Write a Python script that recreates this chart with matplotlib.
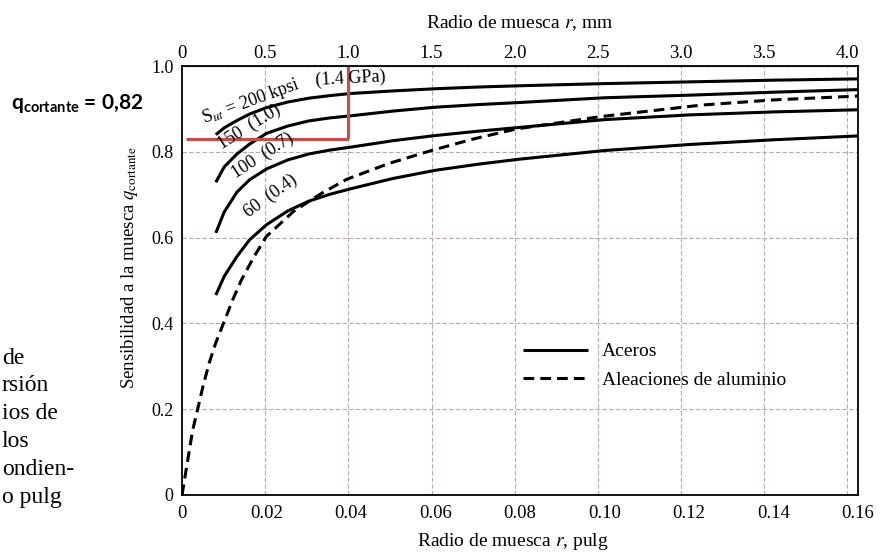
import numpy as np
import matplotlib.pyplot as plt

plt.rcParams["font.family"] = ["Liberation Serif", "DejaVu Serif"]
plt.rcParams["mathtext.fontset"] = "stix"

# radio de muesca r (pulg) y sensibilidad q
r_acero = [0.008, 0.010, 0.013, 0.016, 0.020, 0.025, 0.030, 0.035, 0.040, 0.050,
           0.060, 0.070, 0.080, 0.10, 0.12, 0.14, 0.16]
q_200 = [0.840, 0.856, 0.873, 0.888, 0.903, 0.916, 0.925, 0.931, 0.936, 0.942,
         0.947, 0.951, 0.954, 0.959, 0.963, 0.967, 0.970]
q_150 = [0.729, 0.765, 0.795, 0.818, 0.843, 0.860, 0.872, 0.879, 0.884, 0.895,
         0.904, 0.910, 0.915, 0.926, 0.932, 0.939, 0.945]
q_100 = [0.611, 0.660, 0.706, 0.735, 0.760, 0.781, 0.795, 0.804, 0.811, 0.826,
         0.838, 0.848, 0.857, 0.875, 0.886, 0.893, 0.898]
q_60 = [0.466, 0.510, 0.556, 0.595, 0.630, 0.662, 0.685, 0.701, 0.714, 0.738,
        0.757, 0.771, 0.783, 0.803, 0.817, 0.828, 0.837]

r_alum = [0.0, 0.001, 0.0025, 0.0037, 0.005, 0.0065, 0.008, 0.010, 0.012, 0.014,
          0.017, 0.020, 0.0265, 0.033, 0.039, 0.049, 0.059, 0.069, 0.079, 0.099,
          0.123, 0.14, 0.16]
q_alum = [0.0, 0.06, 0.15, 0.20, 0.255, 0.31, 0.355, 0.405, 0.455, 0.50,
          0.555, 0.603, 0.662, 0.703, 0.736, 0.773, 0.803, 0.830, 0.853, 0.882,
          0.909, 0.921, 0.930]

ticks_pulg = [0, 0.02, 0.04, 0.06, 0.08, 0.10, 0.12, 0.14, 0.16]
ticks_mm = [0, 0.5, 1.0, 1.5, 2.0, 2.5, 3.0, 3.5, 4.0]
ticks_q = [0, 0.2, 0.4, 0.6, 0.8, 1.0]

q_marcado = 0.83
r_marcado_mm = 1.0

texto_pagina = ["de", "rsión", "ios de", "los", "ondien-", "o pulg"]

fig = plt.figure(figsize=(8.81, 5.59), dpi=100)
ax = fig.add_axes([0.2066, 0.1145, 0.7673, 0.7674])

ax.plot(r_acero, q_200, color="black", lw=2.2, solid_capstyle="butt")
ax.plot(r_acero, q_150, color="black", lw=2.2, solid_capstyle="butt")
ax.plot(r_acero, q_100, color="black", lw=2.2, solid_capstyle="butt")
ax.plot(r_acero, q_60, color="black", lw=2.2, solid_capstyle="butt", label="Aceros")
ax.plot(r_alum, q_alum, color="black", lw=2.2, dashes=(3.5, 2),
        label="Aleaciones de aluminio")

ax.set_xlim(0, 0.16)
ax.set_ylim(0, 1.0)
ax.set_xticks(ticks_pulg)
ax.set_xticklabels(["0" if t == 0 else f"{t:.2f}" for t in ticks_pulg])
ax.set_yticks(ticks_q)
ax.set_yticklabels(["0" if t == 0 else f"{t:.1f}" for t in ticks_q])
ax.tick_params(length=0, labelsize=13.5)
ax.tick_params(axis="x", pad=7)
ax.tick_params(axis="y", pad=6, labelsize=13)

# rejilla en las divisiones de mm
ax.set_xticks([m / 25.4 for m in ticks_mm], minor=True)
ax.tick_params(which="minor", length=0)
ax.grid(which="minor", axis="x", color="#b8a9a9", lw=0.8, ls=(0, (4, 2)))
ax.grid(which="major", axis="y", color="#b8a9a9", lw=0.8, ls=(0, (4, 2)))
ax.grid(which="major", axis="x", visible=False)
for s in ax.spines.values():
    s.set_linewidth(1.3)

sec = ax.secondary_xaxis("top", functions=(lambda x: x * 25.4, lambda x: x / 25.4))
sec.set_xticks(ticks_mm)
sec.set_xticklabels(["0" if t == 0 else f"{t:.1f}" for t in ticks_mm])
sec.tick_params(length=0, labelsize=13.5, pad=3)
sec.set_xlabel("Radio de muesca $r$, mm", fontsize=14, labelpad=12)

ax.set_xlabel("Radio de muesca $r$, pulg", fontsize=14)
ax.xaxis.set_label_coords(0.49, -0.085)
ax.set_ylabel(r"Sensibilidad a la muesca $q_{\rm cortante}$", fontsize=13.5)
ax.yaxis.set_label_coords(-0.062, 0.53)

# etiquetas de las curvas
ax.text(0.0163, 0.918, r"S$_{ut}$ = 200 kpsi", fontsize=13, rotation=20,
        ha="center", va="center")
ax.text(0.0400, 0.970, "(1.4 GPa)", fontsize=13, rotation=3, ha="center", va="center")
ax.text(0.0160, 0.858, "150  (1.0)", fontsize=13, rotation=32, ha="center", va="center")
ax.text(0.0190, 0.792, "100  (0.7)", fontsize=13, rotation=33, ha="center", va="center")
ax.text(0.0210, 0.697, "60  (0.4)", fontsize=13, rotation=36, ha="center", va="center")

ax.legend(loc="upper left", bbox_to_anchor=(0.505, 0.355), frameon=False,
          fontsize=14, handlelength=3.3, handletextpad=0.75, labelspacing=0.55,
          borderaxespad=0, borderpad=0)

# marca en rojo
rojo = "#C0504D"
r_marcado = r_marcado_mm / 25.4
ax.plot([0.001, r_marcado], [q_marcado, q_marcado], color=rojo, lw=2.3,
        solid_capstyle="butt", clip_on=False)
ax.plot([r_marcado, r_marcado], [q_marcado, 1.0], color=rojo, lw=2.3,
        solid_capstyle="butt", clip_on=False)

plt.rcParams["mathtext.rm"] = "Lato:bold"
plt.rcParams["mathtext.bf"] = "Lato:bold"
fig.text(0.012, 0.815, r"$\mathrm{q}_{\mathrm{cortante}}$ = 0,82", fontsize=15,
         family="Lato", weight="bold", math_fontfamily="custom", va="center")

for i, linea in enumerate(texto_pagina):
    fig.text(0.002, 1 - (358 + 27.8 * i) / 559, linea, fontsize=17, va="center")

fig.savefig("out.png", dpi=100)
